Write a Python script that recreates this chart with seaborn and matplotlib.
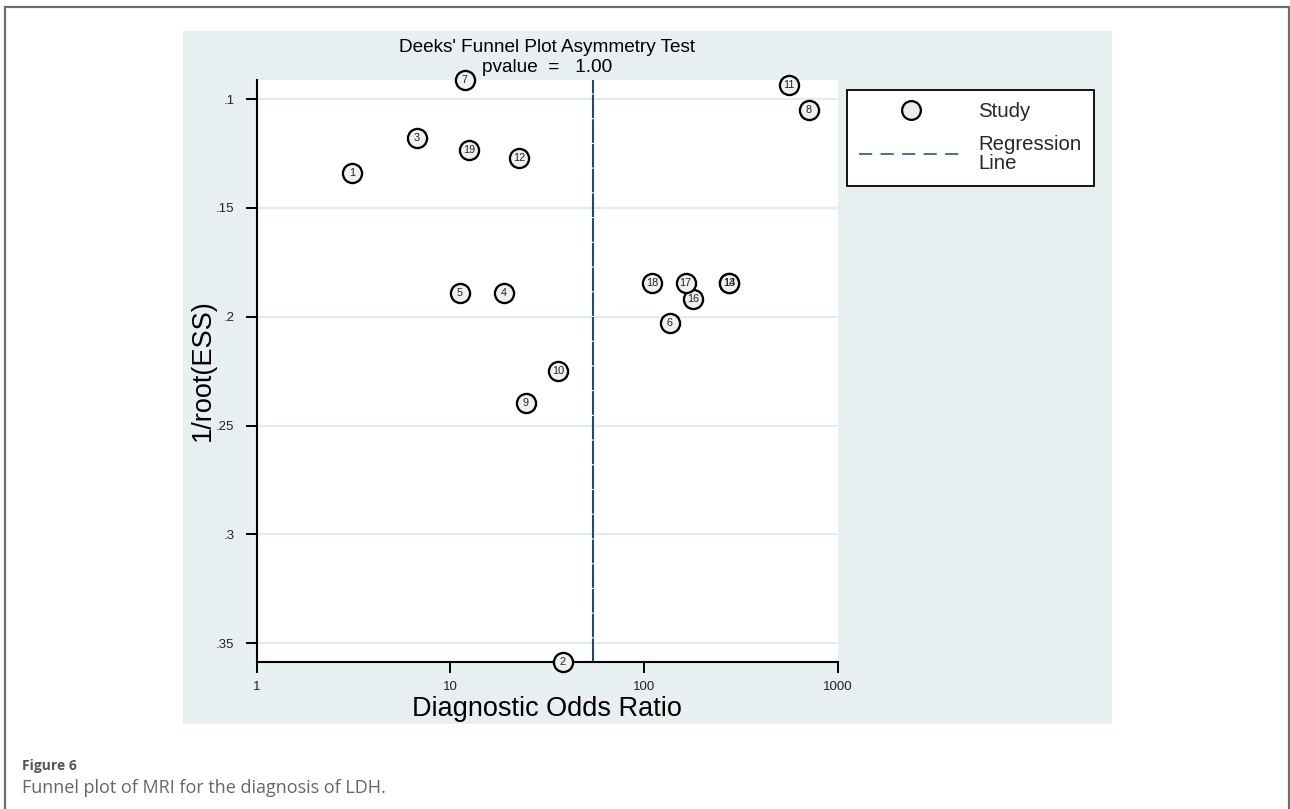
import numpy as np
import pandas as pd
import matplotlib
matplotlib.use("Agg")
import matplotlib.pyplot as plt
import seaborn as sns
from matplotlib.lines import Line2D
from matplotlib.patches import Rectangle
from matplotlib.ticker import FixedLocator, FixedFormatter, NullLocator

# ---- study data -------------------------------------------------------
study_ids = [1, 2, 3, 4, 5, 6, 7, 8, 9, 10, 11, 12, 13, 14, 16, 17, 18, 19]
diagnostic_odds_ratio = [3.12, 38.2, 6.72, 18.96, 11.23, 136.4, 11.91, 708.6, 24.6,
                         36.1, 561.0, 22.6, 276.0, 276.0, 179.9, 164.4, 110.1, 12.5]
inv_root_ess = [0.1341, 0.3585, 0.1181, 0.1893, 0.1893, 0.2030, 0.0913, 0.1051, 0.2395,
                0.2249, 0.0936, 0.1270, 0.1847, 0.1847, 0.1920, 0.1847, 0.1847, 0.1234]

# regression of ln(DOR) on 1/root(ESS)
reg_intercept_ln_dor = 3.996
reg_slope = 0.0
p_value = 1.00

x_ticks = [1, 10, 100, 1000]
x_tick_labels = ["1", "10", "100", "1000"]
y_ticks = [0.10, 0.15, 0.20, 0.25, 0.30, 0.35]
y_tick_labels = [".1", ".15", ".2", ".25", ".3", ".35"]

df = pd.DataFrame({"study": study_ids,
                   "dor": diagnostic_odds_ratio,
                   "y": inv_root_ess})

# ---- styling ----------------------------------------------------------
sns.set_style("white")
plt.rcParams["font.family"] = ["Liberation Sans", "DejaVu Sans"]
plt.rcParams["lines.scale_dashes"] = False

W, H = 1290, 809
fig = plt.figure(figsize=(W / 100, H / 100), dpi=100)
fig.patch.set_facecolor("white")

def fx(px):
    return px / W

def fy(py):
    return 1 - py / H

# light graph region behind the plot
fig.patches.append(Rectangle((fx(183), fy(724)), fx(1112) - fx(183), fy(31) - fy(724),
                             transform=fig.transFigure, facecolor="#e8eff1",
                             edgecolor="none", zorder=-10))

# page frame (top, left, right)
frame_kw = dict(transform=fig.transFigure, color="#6e6e6e", lw=1.6, zorder=-5)
fig.add_artist(Line2D([fx(4.5), fx(1289)], [fy(6.8), fy(6.8)], **frame_kw))
fig.add_artist(Line2D([fx(4.5), fx(4.5)], [fy(6.8), 0], **frame_kw))
fig.add_artist(Line2D([fx(1289), fx(1289)], [fy(6.8), 0], **frame_kw))

ax = fig.add_axes([fx(256.5), fy(661.7), fx(837.5) - fx(256.5), fy(80) - fy(661.7)])
ax.set_zorder(2)
ax.set_facecolor("white")
ax.set_xscale("log")
ax.set_xlim(1, 1000)
ax.set_ylim(0.35845, 0.09127)

# horizontal grid
ax.set_axisbelow(True)
ax.yaxis.grid(True, color="#e2ebee", lw=1.6)
ax.xaxis.grid(False)

# regression line
y_line = np.array(ax.get_ylim())
x_line = np.exp(reg_intercept_ln_dor + reg_slope * y_line)
ax.plot(x_line, y_line, color="#1a4a80", lw=1.5, linestyle=(0, (17, 0.8)), zorder=2)

# studies
sns.scatterplot(data=df, x="dor", y="y", ax=ax, s=190, color="#f0f0f0",
                edgecolor="black", linewidth=1.65, zorder=3, clip_on=False, legend=False)
for sid, xv, yv in zip(study_ids, diagnostic_odds_ratio, inv_root_ess):
    ax.text(xv, yv, str(sid), ha="center", va="center", fontsize=7.8,
            color="#222222", zorder=4, clip_on=False)

# axes cosmetics
for side in ("top", "right"):
    ax.spines[side].set_visible(False)
for side in ("left", "bottom"):
    ax.spines[side].set_color("black")
    ax.spines[side].set_linewidth(1.5)
ax.xaxis.set_major_locator(FixedLocator(x_ticks))
ax.xaxis.set_major_formatter(FixedFormatter(x_tick_labels))
ax.xaxis.set_minor_locator(NullLocator())
ax.yaxis.set_major_locator(FixedLocator(y_ticks))
ax.yaxis.set_major_formatter(FixedFormatter(y_tick_labels))
ax.tick_params(axis="both", which="major", direction="out", length=7.8, width=1.4,
               color="black", labelsize=9.5, labelcolor="#222222",
               bottom=True, left=True)
ax.tick_params(axis="y", pad=8)
ax.tick_params(axis="x", pad=6)
ax.set_xlabel("")
ax.set_ylabel("")

# axis titles
fig.text(fx(203), fy(370.5), "1/root(ESS)", rotation=90, ha="center", va="center",
         fontsize=19.5, color="black")
fig.text(fx(547), fy(715.5), "Diagnostic Odds Ratio", ha="center", va="baseline",
         fontsize=19.5, color="black")

# chart title
fig.text(fx(547), fy(52.5), "Deeks' Funnel Plot Asymmetry Test", ha="center",
         va="baseline", fontsize=13.7, color="black")
fig.text(fx(547), fy(72.5), f"pvalue  =   {p_value:.2f}", ha="center",
         va="baseline", fontsize=13.7, color="black")

# legend
handles = [
    Line2D([], [], linestyle="none", marker="o", markersize=13.5,
           markerfacecolor="#ececec", markeredgecolor="black", markeredgewidth=1.6),
    Line2D([], [], color="#3d6596", lw=1.3, linestyle=(0, (9.5, 6))),
]
leg = fig.legend(handles, ["Study", "Regression\nLine"], loc="upper left",
                 bbox_to_anchor=(fx(847), fy(90)), bbox_transform=fig.transFigure,
                 frameon=True, fancybox=False, edgecolor="black", facecolor="white",
                 framealpha=1, fontsize=14.7, handlelength=5.05, handletextpad=0.78,
                 borderpad=0.6, labelspacing=0.65, borderaxespad=0)
leg.set_zorder(5)
leg.get_frame().set_linewidth(1.3)
for t in leg.get_texts():
    t.set_linespacing(1.05)

# caption
fig.text(fx(22), fy(765.7), "Figure 6", ha="left", va="center", fontsize=10,
         fontweight="bold", color="#555555", family=["Open Sans", "DejaVu Sans"])
fig.text(fx(22), fy(787.7), "Funnel plot of MRI for the diagnosis of LDH.", ha="left",
         va="center", fontsize=13, color="#666666", family=["Open Sans", "DejaVu Sans"])

fig.savefig("out.png", dpi=100)
